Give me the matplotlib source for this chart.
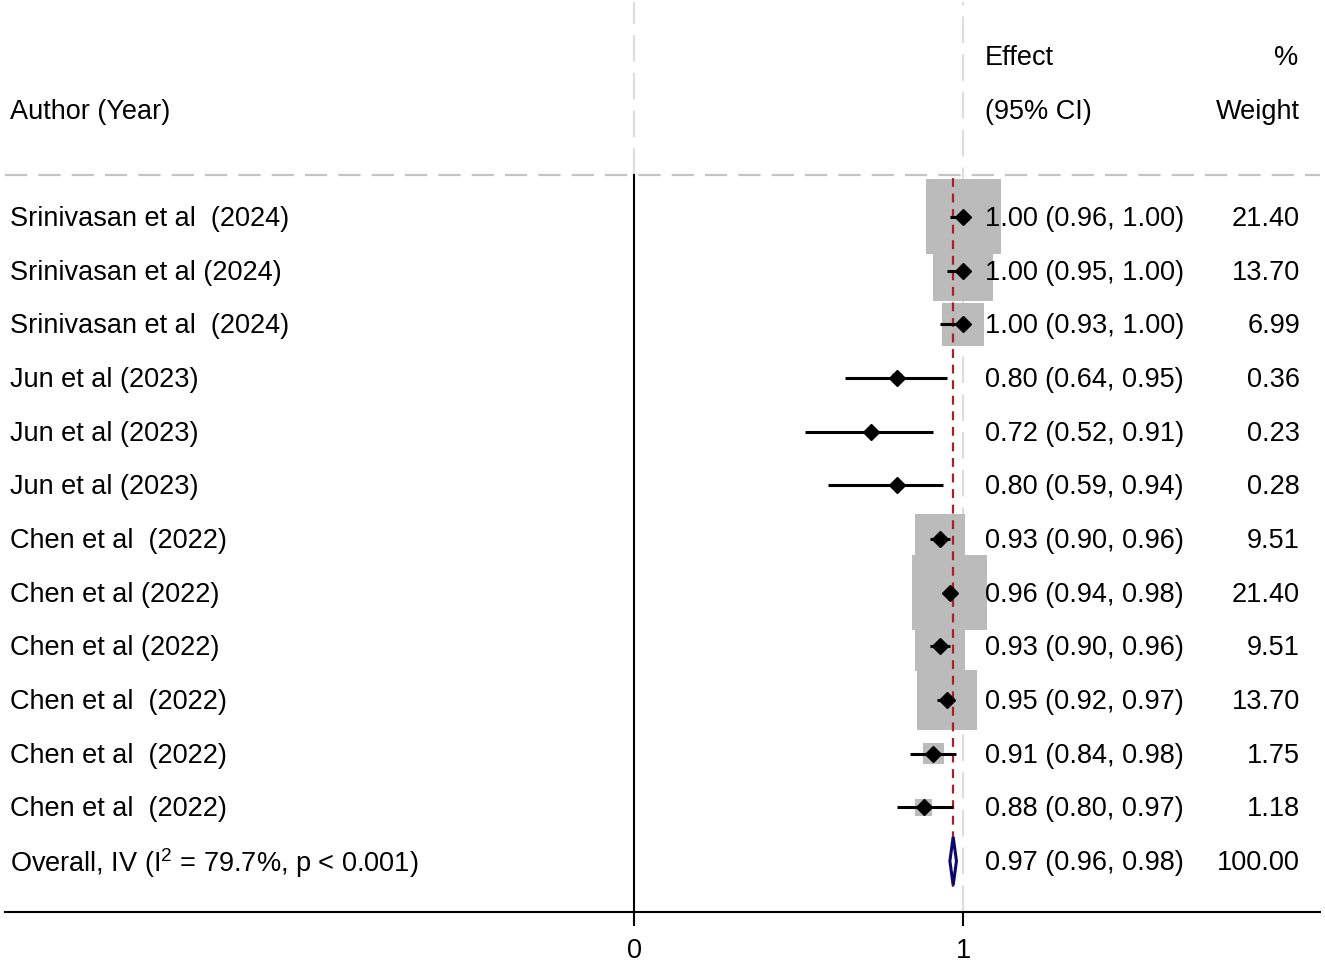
import matplotlib
matplotlib.use("Agg")
import matplotlib.pyplot as plt
import numpy as np

plt.rcParams['font.family'] = ['Liberation Sans', 'DejaVu Sans']
plt.rcParams['mathtext.fontset'] = 'custom'
plt.rcParams['mathtext.rm'] = 'Liberation Sans'
plt.rcParams['mathtext.it'] = 'Liberation Sans:italic'

studies = ["Srinivasan et al  (2024)", "Srinivasan et al (2024)", "Srinivasan et al  (2024)",
           "Jun et al (2023)", "Jun et al (2023)", "Jun et al (2023)",
           "Chen et al  (2022)", "Chen et al (2022)", "Chen et al (2022)",
           "Chen et al  (2022)", "Chen et al  (2022)", "Chen et al  (2022)"]
effects = [1.00, 1.00, 1.00, 0.80, 0.72, 0.80, 0.93, 0.96, 0.93, 0.95, 0.91, 0.88]
ci_low = [0.96, 0.95, 0.93, 0.64, 0.52, 0.59, 0.90, 0.94, 0.90, 0.92, 0.84, 0.80]
ci_high = [1.00, 1.00, 1.00, 0.95, 0.91, 0.94, 0.96, 0.98, 0.96, 0.97, 0.98, 0.97]
weights = [21.40, 13.70, 6.99, 0.36, 0.23, 0.28, 9.51, 21.40, 9.51, 13.70, 1.75, 1.18]

overall_label = "Overall, IV (I$^{2}$ = 79.7%, p < 0.001)"
overall_effect = 0.97
overall_low = 0.96
overall_high = 0.98
overall_weight = 100.00

fig = plt.figure(figsize=(13.25, 9.65), dpi=100)
ax = fig.add_axes([5/1325, 53/965, 1315/1325, 912/965])
ax.set_xlim(-1.912, 2.085)
ax.set_ylim(12.95, -4.043)

n = len(studies)
rows = np.arange(n)
orow = n
hdr = -0.7826
FS = 19.5
toff = 0.04

# reference lines
ax.plot([1, 1], [12.95, -4.0], color='#dedede', lw=1.6, ls=(0, (12, 5)), zorder=0.5)
ax.plot([0, 0], [hdr, -4.0], color='#dedede', lw=1.6, ls=(0, (12, 5)), zorder=0.5)
ax.plot([0, 0], [12.95, hdr], color='black', lw=1.5, zorder=1)
ax.axhline(hdr, color='#c4c4c4', lw=1.6, ls=(0, (10, 5)), zorder=1)

# weight boxes
box_scale = 2916 / 21.4
ax.scatter(effects, rows, s=np.array(weights) * box_scale, marker='s', color='#bbbbbb',
           linewidths=0, zorder=2)

# overall line
ax.plot([overall_effect, overall_effect], [-0.72, orow + 0.48], color='#a8202a', lw=1.6,
        ls=(0, (4, 3)), zorder=3)

# CI lines and points
for i in range(n):
    ax.plot([ci_low[i], ci_high[i]], [rows[i], rows[i]], color='black', lw=2.2,
            solid_capstyle='butt', zorder=4)
ax.plot(effects, rows, 'D', color='black', ms=8, zorder=5)

# overall diamond
dx = [overall_low, overall_effect, overall_high, overall_effect, overall_low]
dy = [orow, orow - 0.45, orow, orow + 0.45, orow]
ax.fill(dx, dy, facecolor='white', edgecolor='#0a0a6e', lw=2.2, zorder=6)

# texts
x_lab = -1.897
x_eff = 1.067
x_wt = 2.024
for i in range(n):
    ax.text(x_lab, rows[i] + toff, studies[i], fontsize=FS, va='center', ha='left')
    ax.text(x_eff, rows[i] + toff, f"{effects[i]:.2f} ({ci_low[i]:.2f}, {ci_high[i]:.2f})",
            fontsize=FS, va='center', ha='left')
    ax.text(x_wt, rows[i] + toff, f"{weights[i]:.2f}", fontsize=FS, va='center', ha='right')
ax.text(x_lab, orow + toff, overall_label, fontsize=FS, va='center', ha='left')
ax.text(x_eff, orow + toff, f"{overall_effect:.2f} ({overall_low:.2f}, {overall_high:.2f})",
        fontsize=FS, va='center', ha='left')
ax.text(x_wt, orow + toff, f"{overall_weight:.2f}", fontsize=FS, va='center', ha='right')

y_h1 = (56 - 217) / 53.67 + toff
y_h2 = (110 - 217) / 53.67 + toff
ax.text(x_eff, y_h1, "Effect", fontsize=FS, va='center', ha='left')
ax.text(x_wt - 0.005, y_h1, "%", fontsize=FS, va='center', ha='right')
ax.text(x_lab, y_h2, "Author (Year)", fontsize=FS, va='center', ha='left')
ax.text(x_eff, y_h2, "(95% CI)", fontsize=FS, va='center', ha='left')
ax.text(x_wt, y_h2, "Weight", fontsize=FS, va='center', ha='right')

for s in ['top', 'left', 'right']:
    ax.spines[s].set_visible(False)
ax.spines['bottom'].set_linewidth(1.5)
ax.set_yticks([])
ax.set_xticks([0, 1])
ax.set_xticklabels(['0', '1'])
ax.tick_params(axis='x', length=10, width=1.5, labelsize=FS, pad=9)

fig.savefig("out.png", dpi=100)
